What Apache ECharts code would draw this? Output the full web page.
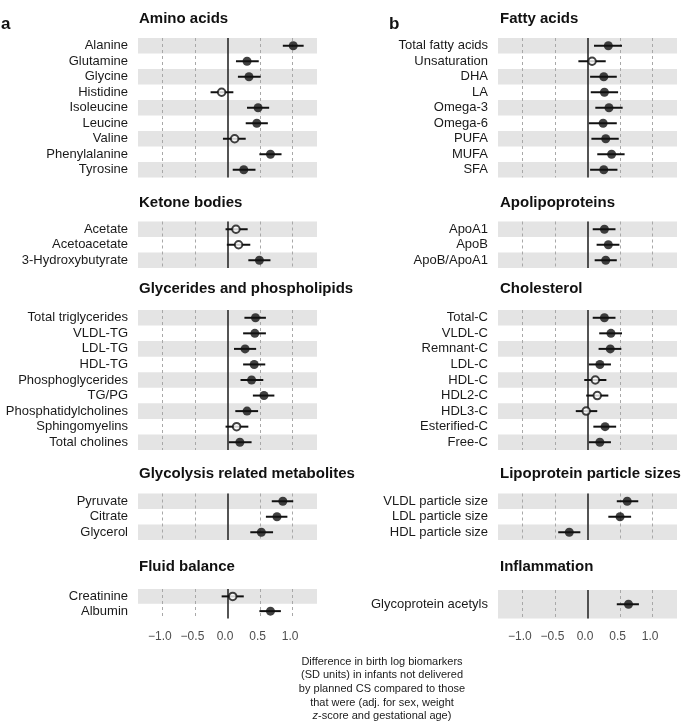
<!DOCTYPE html>
<html>
<head>
<meta charset="utf-8">
<script src="https://cdn.jsdelivr.net/npm/echarts@6/dist/echarts.min.js"></script>
<style>
html,body{margin:0;padding:0;background:#fff;}
#chart{width:685px;height:728px;}
</style>
</head>
<body>
<div id="chart"></div>
<script>
// ---------- data ----------
const aminoLabels = ['Alanine','Glutamine','Glycine','Histidine','Isoleucine','Leucine','Valine','Phenylalanine','Tyrosine'];
const aminoEst = [1.01,0.30,0.33,-0.09,0.47,0.45,0.11,0.66,0.25];
const aminoLo  = [0.85,0.13,0.16,-0.26,0.30,0.28,-0.07,0.49,0.08];
const aminoHi  = [1.17,0.48,0.51,0.09,0.64,0.62,0.28,0.83,0.43];
const aminoSig = [1,1,1,0,1,1,0,1,1];

const ketoneLabels = ['Acetate','Acetoacetate','3-Hydroxybutyrate'];
const ketoneEst = [0.13,0.17,0.49];
const ketoneLo  = [-0.03,-0.01,0.32];
const ketoneHi  = [0.31,0.35,0.66];
const ketoneSig = [0,0,1];

const glycLabels = ['Total triglycerides','VLDL-TG','LDL-TG','HDL-TG','Phosphoglycerides','TG/PG','Phosphatidylcholines','Sphingomyelins','Total cholines'];
const glycEst = [0.43,0.42,0.27,0.41,0.37,0.56,0.30,0.14,0.19];
const glycLo  = [0.26,0.24,0.10,0.24,0.20,0.39,0.12,-0.03,0.02];
const glycHi  = [0.59,0.59,0.44,0.58,0.55,0.72,0.47,0.32,0.37];
const glycSig = [1,1,1,1,1,1,1,0,1];

const glycoLabels = ['Pyruvate','Citrate','Glycerol'];
const glycoEst = [0.85,0.76,0.52];
const glycoLo  = [0.68,0.59,0.35];
const glycoHi  = [1.01,0.92,0.70];
const glycoSig = [1,1,1];

const fluidLabels = ['Creatinine','Albumin'];
const fluidEst = [0.08,0.66];
const fluidLo  = [-0.09,0.49];
const fluidHi  = [0.25,0.82];
const fluidSig = [0,1];

const fattyLabels = ['Total fatty acids','Unsaturation','DHA','LA','Omega-3','Omega-6','PUFA','MUFA','SFA'];
const fattyEst = [0.32,0.07,0.25,0.26,0.33,0.24,0.28,0.37,0.25];
const fattyLo  = [0.10,-0.14,0.04,0.05,0.12,0.02,0.06,0.15,0.04];
const fattyHi  = [0.53,0.28,0.45,0.47,0.54,0.45,0.48,0.57,0.46];
const fattySig = [1,0,1,1,1,1,1,1,1];

const apoLabels = ['ApoA1','ApoB','ApoB/ApoA1'];
const apoEst = [0.26,0.32,0.28];
const apoLo  = [0.08,0.14,0.11];
const apoHi  = [0.43,0.49,0.45];
const apoSig = [1,1,1];

const cholLabels = ['Total-C','VLDL-C','Remnant-C','LDL-C','HDL-C','HDL2-C','HDL3-C','Esterified-C','Free-C'];
const cholEst = [0.26,0.36,0.35,0.19,0.12,0.15,-0.02,0.27,0.19];
const cholLo  = [0.08,0.18,0.17,0.02,-0.05,-0.02,-0.18,0.09,0.02];
const cholHi  = [0.43,0.53,0.52,0.36,0.29,0.32,0.15,0.44,0.36];
const cholSig = [1,1,1,1,0,0,0,1,1];

const lipoLabels = ['VLDL particle size','LDL particle size','HDL particle size'];
const lipoEst = [0.61,0.50,-0.28];
const lipoLo  = [0.45,0.32,-0.45];
const lipoHi  = [0.78,0.67,-0.11];
const lipoSig = [1,1,1];

const inflamLabels = ['Glycoprotein acetyls'];
const inflamEst = [0.63];
const inflamLo  = [0.45];
const inflamHi  = [0.79];
const inflamSig = [1];

const xTicks = [-1, -0.5, 0, 0.5, 1];
const dashedRefs = [-1, -0.5, 0.5, 1];
const zeroRef = 0;

// ---------- layout ----------
const FONT = "'Liberation Sans', Arial, Helvetica, sans-serif";
const cols = [{left:138, width:179, titleX:139}, {left:498, width:179, titleX:500}];
const panels = [
  {title:'Amino acids', col:0, top:38, h:139.5, ty:18.5, L:aminoLabels, E:aminoEst, lo:aminoLo, hi:aminoHi, S:aminoSig},
  {title:'Ketone bodies', col:0, top:221.5, h:46.5, ty:203, L:ketoneLabels, E:ketoneEst, lo:ketoneLo, hi:ketoneHi, S:ketoneSig},
  {title:'Glycerides and phospholipids', col:0, top:310, h:140, ty:289, L:glycLabels, E:glycEst, lo:glycLo, hi:glycHi, S:glycSig},
  {title:'Glycolysis related metabolites', col:0, top:493.5, h:46.5, ty:474, L:glycoLabels, E:glycoEst, lo:glycoLo, hi:glycoHi, S:glycoSig},
  {title:'Fluid balance', col:0, top:589, h:29.5, ty:567, L:fluidLabels, E:fluidEst, lo:fluidLo, hi:fluidHi, S:fluidSig, axis:true},
  {title:'Fatty acids', col:1, top:38, h:139.5, ty:18.5, L:fattyLabels, E:fattyEst, lo:fattyLo, hi:fattyHi, S:fattySig},
  {title:'Apolipoproteins', col:1, top:221.5, h:46.5, ty:203, L:apoLabels, E:apoEst, lo:apoLo, hi:apoHi, S:apoSig},
  {title:'Cholesterol', col:1, top:310, h:140, ty:289, L:cholLabels, E:cholEst, lo:cholLo, hi:cholHi, S:cholSig},
  {title:'Lipoprotein particle sizes', col:1, top:493.5, h:46.5, ty:474, L:lipoLabels, E:lipoEst, lo:lipoLo, hi:lipoHi, S:lipoSig},
  {title:'Inflammation', col:1, top:590, h:28.5, ty:567, L:inflamLabels, E:inflamEst, lo:inflamLo, hi:inflamHi, S:inflamSig, axis:true}
];

const grid = [], xAxis = [], yAxis = [], series = [], graphic = [];

panels.forEach((p, k) => {
  const c = cols[p.col];
  grid.push({left:c.left, top:p.top, width:c.width, height:p.h, containLabel:false});
  xAxis.push({
    gridIndex:k, type:'value', min:-1.375, max:1.375,
    axisLine:{show:false}, axisTick:{show:false}, splitLine:{show:false},
    axisLabel:{
      show:!!p.axis, customValues:xTicks, margin:12, fontSize:12, color:'#4d4d4d', fontFamily:FONT,
      padding:[0,5,0,0],
      formatter: v => (v < 0 ? '\u2212' : '') + Math.abs(v).toFixed(1)
    }
  });
  yAxis.push({
    gridIndex:k, type:'category', data:p.L, inverse:true, boundaryGap:true,
    axisLine:{show:false}, axisTick:{show:false}, splitLine:{show:false},
    splitArea:{show:true, areaStyle:{color:['#e4e4e4','rgba(255,255,255,0)']}},
    axisLabel:{fontSize:13, color:'#1a1a1a', margin:10, fontFamily:FONT, interval:0}
  });
  // reference lines
  series.push({
    type:'scatter', xAxisIndex:k, yAxisIndex:k, data:[], silent:true, z:1,
    markLine:{
      silent:true, symbol:['none','none'], z:1, animation:false,
      label:{show:false},
      data: dashedRefs.map(v => ({xAxis:v, lineStyle:{color:'#a8a8a8', width:1, type:[3,3]}}))
        .concat([{xAxis:zeroRef, lineStyle:{color:'#2a2a2a', width:1.6, type:'solid'}}])
    }
  });
  // confidence intervals
  series.push({
    type:'custom', xAxisIndex:k, yAxisIndex:k, z:3, silent:true,
    data: p.L.map((_, i) => [p.lo[i], p.hi[i], i]),
    encode:{x:[0,1], y:2},
    renderItem:(params, api) => {
      const a = api.coord([api.value(0), api.value(2)]);
      const b = api.coord([api.value(1), api.value(2)]);
      return {type:'line', shape:{x1:a[0], y1:a[1], x2:b[0], y2:b[1]}, style:{stroke:'#111', lineWidth:2}};
    }
  });
  // point estimates
  series.push({
    type:'scatter', xAxisIndex:k, yAxisIndex:k, z:4, silent:true, symbol:'circle',
    data: p.E.map((v, i) => p.S[i]
      ? {value:[v, i], symbolSize:9, itemStyle:{color:'#111', borderWidth:0}}
      : {value:[v, i], symbolSize:7.5, itemStyle:{color:'#fff', borderColor:'#111', borderWidth:2}})
  });
  graphic.push({
    type:'text', x:c.titleX, y:p.ty, silent:true,
    style:{text:p.title, font:'bold 15px ' + FONT, fill:'#111', verticalAlign:'middle', align:'left'}
  });
});

graphic.push({type:'text', x:1, y:16, style:{text:'a', font:'bold 17px ' + FONT, fill:'#111', verticalAlign:'alphabetic'}});
graphic.push({type:'text', x:389, y:16, style:{text:'b', font:'bold 17px ' + FONT, fill:'#111', verticalAlign:'alphabetic'}});
graphic.push({
  type:'text', x:382, y:655, silent:true,
  style:{
    text:'Difference in birth log biomarkers\n(SD units) in infants not delivered\nby planned CS compared to those\nthat were (adj. for sex, weight\n{i|z}-score and gestational age)',
    rich:{i:{fontStyle:'italic', fontSize:11, fontFamily:FONT, fill:'#1a1a1a'}},
    font:'11px ' + FONT, fill:'#1a1a1a', align:'center', verticalAlign:'top', lineHeight:13.6
  }
});

const chart = echarts.init(document.getElementById('chart'), null, {renderer:'canvas'});
chart.setOption({
  animation:false,
  backgroundColor:'#fff',
  grid, xAxis, yAxis, series, graphic
});
</script>
</body>
</html>
